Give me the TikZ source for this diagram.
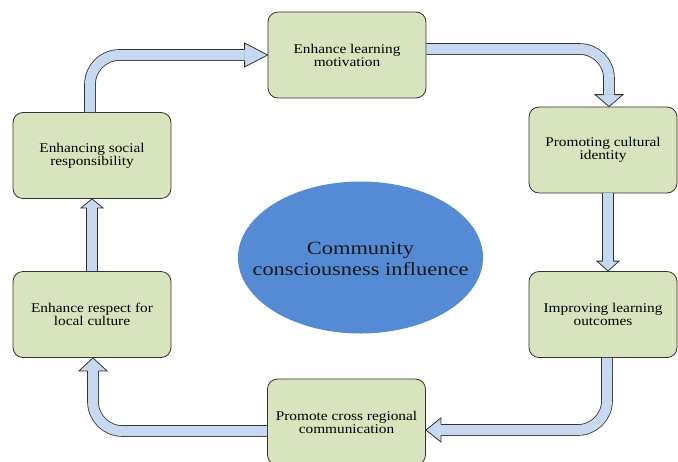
\documentclass[tikz,border=0pt]{standalone}
\usepackage{fontspec}
\setmainfont{Liberation Serif}[FakeStretch=1.15]
\newfontfamily\bigfont{Liberation Serif}[FakeStretch=1.2]
\usetikzlibrary{shapes.geometric,calc}
\definecolor{boxfill}{HTML}{D7E4BD}
\definecolor{boxline}{HTML}{333333}
\definecolor{arrfill}{HTML}{C6D9F1}
\definecolor{ellfill}{HTML}{558BD5}
\newcommand\myhead[4]{%
  \begin{scope}[shift={(#1)}, rotate=#2]
    \fill[arrfill] (-#3,-#4) -- (0,0) -- (-#3,#4) -- cycle;
    \draw[arrline] (-#3,-5.4) -- (-#3,-#4) -- (0,0) -- (-#3,#4) -- (-#3,5.4);
  \end{scope}}
\begin{document}
\begin{tikzpicture}[x=0.75pt,y=-0.75pt,
  stepbox/.style={draw=boxline, line width=0.6pt, fill=boxfill, rounded corners=7.5pt,
    minimum width=118.5pt, minimum height=64.5pt, inner sep=0pt, align=center,
    font=\fontsize{10}{9.8}\selectfont},
  shaft/.style={draw=boxline, line width=0.6pt, double=arrfill, double distance=7.5pt,
    rounded corners=22pt},
  arrline/.style={draw=boxline, line width=0.6pt, line join=miter}]
\useasboundingbox (0,0) rectangle (678,461);

\node[stepbox] (mot) at (347,55) {Enhance learning\\motivation};
\node[stepbox, minimum width=111pt] (cul) at (603,150) {Promoting cultural\\identity};
\node[stepbox, minimum width=111pt] (out) at (603,314.5) {Improving learning\\outcomes};
\node[stepbox] (cross) at (346.5,422) {Promote cross regional\\communication};
\node[stepbox] (loc) at (92,314.5) {Enhance respect for\\local culture};
\node[stepbox] (soc) at (92,155.5) {Enhancing social\\responsibility};

\fill[ellfill] (360.5,257.5) ellipse [x radius=91.9pt, y radius=57pt];
\node[align=center, inner sep=0pt, text=black!90, font=\bigfont\fontsize{14}{15.75}\selectfont]
  (core) at (360.5,259) {Community\\consciousness influence};

% arrow 1: soc -> mot
\coordinate (t1) at (mot.west);
\draw[shaft] ($(soc.north)+(-2,0)$) -- (90,55) -- ($(t1)+(-23,0)$);
\myhead{t1}{0}{23}{12}
% arrow 2: mot -> cul
\coordinate (t2) at ($(cul.north)+(6,0)$);
\draw[shaft] ($(mot.east)+(0,-6)$) -- (609,49) -- ($(t2)+(0,-12)$);
\myhead{t2}{-90}{12}{14}
% arrow 3: cul -> out
\coordinate (t3) at ($(out.north)+(5,0)$);
\draw[shaft] ($(cul.south)+(5,0)$) -- ($(t3)+(0,-10)$);
\myhead{t3}{-90}{10}{11}
% arrow 4: out -> cross
\coordinate (t4) at ($(cross.east)+(0,8)$);
\draw[shaft] ($(out.south)+(4,0)$) -- (607,430) -- ($(t4)+(15,0)$);
\myhead{t4}{180}{15}{12}
% arrow 5: cross -> loc
\coordinate (t5) at ($(loc.south)+(1,0)$);
\draw[shaft] ($(cross.west)+(0,9)$) -- (93,431) -- ($(t5)+(0,13)$);
\myhead{t5}{90}{13}{14}
% arrow 6: loc -> soc
\coordinate (t6) at (soc.south);
\draw[shaft] (loc.north) -- ($(t6)+(0,9)$);
\myhead{t6}{90}{9}{11}
\end{tikzpicture}
\end{document}
